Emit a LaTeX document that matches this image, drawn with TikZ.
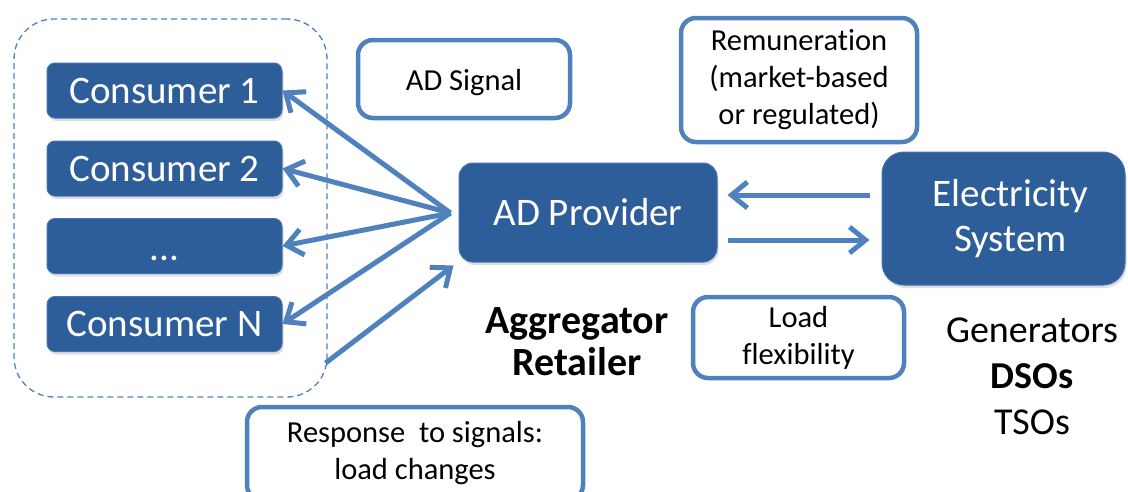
\documentclass[tikz,border=0pt]{standalone}
\usepackage{fontspec}
\setmainfont{Carlito}[Ligatures={NoCommon}]
\usetikzlibrary{arrows.meta,calc,shadows}
\definecolor{boxblue}{RGB}{46,94,153}
\definecolor{lineblue}{RGB}{79,129,189}
\tikzset{
  actor/.style={draw=lineblue!60!boxblue, line width=1pt, fill=boxblue, text=white,
    rounded corners=8pt, font=\fontsize{39}{45}\selectfont, align=center,
    inner sep=0pt, drop shadow={shadow xshift=1.5pt, shadow yshift=-3pt, opacity=0.25}},
  note/.style={draw=lineblue, line width=4.5pt, fill=white, rounded corners=15pt,
    font=\fontsize{30.5}{37}\selectfont, align=center, inner sep=0pt},
  label/.style={align=center, inner sep=0pt},
  arr/.style={draw=lineblue, line width=5pt,
    -{Straight Barb[length=16pt,width=26pt]}},
}
\begin{document}
\begin{tikzpicture}[x=1pt, y=-1pt]
\useasboundingbox (0,0) rectangle (1128,491);

% consumer group
\node[draw=lineblue, dash pattern=on 6pt off 4pt, line width=1.3pt, rounded corners=40pt,
      minimum width=313pt, minimum height=378pt] (group) at (170.5,208) {};

% consumers
\node[actor, minimum width=235pt, minimum height=55pt] (c1) at (164.5,90.5) {Consumer 1};
\node[actor, minimum width=235pt, minimum height=55pt] (c2) at (164.5,168.5) {Consumer 2};
\node[actor, minimum width=235pt, minimum height=55pt] (c3) at (164.5,246) {\raisebox{-12pt}[\height][\depth]{...}};
\node[actor, minimum width=235pt, minimum height=55pt] (cn) at (164.5,324) {Consumer N};

% aggregator and system
\node[actor, rounded corners=14pt, minimum width=258pt, minimum height=99pt] (prov) at (588,212.5) {AD Provider};
\node[actor, rounded corners=22pt, minimum width=243pt, minimum height=133pt] (elec) at (1003.5,218.5)
  {\hspace*{14pt}Electricity\\\hspace*{14pt}System};

% information notes
\node[note, minimum width=212pt, minimum height=78pt] (sig) at (464,79) {\raisebox{-4pt}[\height][\depth]{AD Signal}};
\node[note, minimum width=236pt, minimum height=124pt] (rem) at (799,80) {Remuneration\\(market-based\\or regulated)};
\node[note, minimum width=211pt, minimum height=81pt] (flex) at (798.5,337.5) {Load\\flexibility};
\node[note, minimum width=336pt, minimum height=93pt] (resp) at (415,453.5) {Response~ to signals:\\load changes};

% roles
\node[label, font=\fontsize{40}{42}\selectfont\bfseries] (agg) at (577,342) {Aggregator\\Retailer};
\node[label, font=\fontsize{38}{46}\selectfont] (gen) at (1032,376) {Generators\\\textbf{DSOs}\\TSOs};

% signals to consumers
\coordinate (fan) at ($(prov.west)+(-8,0.5)$);
\draw[arr] (fan) -- (c1.east);
\draw[arr] (fan) -- (c2.east);
\draw[arr] (fan) -- (c3.east);
\draw[arr] (fan) -- (cn.east);

% responses back to the provider
\coordinate (back) at ($(group.east)+(-2,155)$);
\draw[arr] (back) -- ($(prov.south west)+(-5,3)$);

% exchange with the electricity system
\draw[arr] ($(elec.west)+(-12,-23.5)$) -- ($(prov.east)+(10,-17.5)$);
\draw[arr] ($(prov.east)+(10,27.5)$) -- ($(elec.west)+(-12,21.5)$);
\end{tikzpicture}
\end{document}
